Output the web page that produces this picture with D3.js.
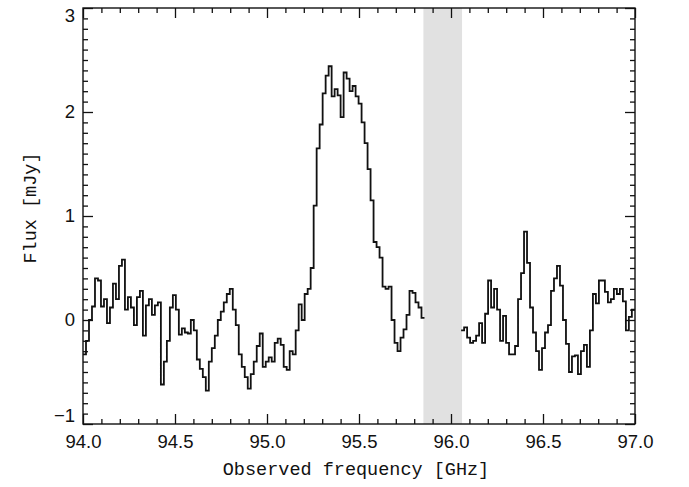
<!DOCTYPE html>
<html>
<head>
<meta charset="utf-8">
<script src="https://cdn.jsdelivr.net/npm/d3@7"></script>
<style>
  html, body { margin: 0; padding: 0; background: #fff; }
  svg { display: block; }
</style>
</head>
<body>
<svg id="chart" width="689" height="487"></svg>
<script>
// ---- data ----
const xTicks = [94.0, 94.5, 95.0, 95.5, 96.0, 96.5, 97.0];
const yTicks = [-1, 0, 1, 2, 3];
const xTitle = "Observed frequency [GHz]";
const yTitle = "Flux [mJy]";
const maskedBand = [95.85, 96.06];   // grey band (GHz)
const channelWidth = 0.01628;        // GHz
const seg1Start = 94.0;              // GHz
const seg2Start = 96.055;            // GHz
const seg1Flux = [
  -0.33, -0.2, 0.0, 0.13, 0.4, 0.38, 0.13, 0.2, -0.03, 0.12,
  0.35, 0.2, 0.52, 0.58, 0.1, 0.22, 0.12, -0.05, 0.22, 0.28,
  -0.15, 0.14, 0.2, 0.05, 0.14, 0.17, -0.62, -0.4, -0.2, 0.12,
  0.24, 0.1, -0.14, -0.08, -0.12, -0.13, 0.0, -0.1, -0.38, -0.47,
  -0.55, -0.68, -0.4, -0.27, -0.15, 0.0, 0.08, 0.17, 0.25, 0.3,
  0.1, -0.05, -0.33, -0.45, -0.55, -0.66, -0.52, -0.4, -0.25, -0.13,
  -0.45, -0.4, -0.36, -0.4, -0.22, -0.18, -0.24, -0.45, -0.48, -0.3,
  -0.33, -0.1, 0.15, 0.0, 0.25, 0.3, 0.5, 1.1, 1.65, 1.88,
  2.18, 2.35, 2.44, 2.15, 2.22, 2.16, 1.95, 2.38, 2.32, 2.2,
  2.25, 2.15, 2.08, 1.9, 1.7, 1.45, 1.15, 0.75, 0.7, 0.6,
  0.32, 0.3, 0.32, 0.0, -0.22, -0.3, -0.17, -0.09, 0.05, 0.28,
  0.26, 0.17, 0.12, 0.02
];
const seg2Flux = [
  -0.1, -0.07, -0.17, -0.22, -0.2, -0.15, -0.03, -0.22, 0.06, 0.38,
  0.12, 0.3, 0.1, -0.2, 0.04, -0.22, -0.33, -0.33, -0.25, 0.2,
  0.45, 0.85, 0.55, 0.12, -0.12, -0.3, -0.48, -0.27, -0.12, -0.05,
  0.28, 0.4, 0.52, 0.33, 0.0, -0.23, -0.5, -0.35, -0.34, -0.52,
  -0.3, -0.24, -0.45, -0.1, 0.25, 0.16, 0.38, 0.38, 0.27, 0.17,
  0.2, 0.3, 0.25, 0.3, 0.18, -0.1, 0.03, 0.1
];

// ---- layout ----
const svg = d3.select("#chart");
const L = 83, R = 635, T = 8, B = 424;
const x = d3.scaleLinear().domain([94.0, 97.0]).range([L, R]);
const y = d3.scaleLinear().domain([-1, 3]).range([B, T]);

function toPoints(start, flux) {
  const pts = flux.map((v, i) => [start + i * channelWidth, v]);
  pts.push([start + flux.length * channelWidth, flux[flux.length - 1]]);
  return pts;
}

// masked band
svg.append("rect")
  .attr("x", x(maskedBand[0])).attr("y", T)
  .attr("width", x(maskedBand[1]) - x(maskedBand[0]))
  .attr("height", B - T)
  .attr("fill", "#e1e1e1");

// spectrum
const line = d3.line().x(d => x(d[0])).y(d => y(d[1])).curve(d3.curveStepAfter);
svg.append("clipPath").attr("id", "clip")
  .append("rect").attr("x", L).attr("y", T).attr("width", R - L).attr("height", B - T);
[toPoints(seg1Start, seg1Flux), toPoints(seg2Start, seg2Flux)].forEach(pts => {
  svg.append("path")
    .attr("d", line(pts))
    .attr("fill", "none")
    .attr("stroke", "#111")
    .attr("stroke-width", 1.8)
    .attr("clip-path", "url(#clip)");
});

// axes
const xMinor = d3.range(940, 971).map(d => d / 10).filter(d => Math.abs(d * 2 - Math.round(d * 2)) > 1e-6);
const yMinor = d3.range(-10, 31).map(d => d / 10).filter(d => Math.abs(d - Math.round(d)) > 1e-6);
const tickFont = "Liberation Sans, Arial, sans-serif";

function styleAxis(g) {
  g.select(".domain").remove();
  g.selectAll("line").attr("stroke", "#111").attr("stroke-width", 1.3);
  g.selectAll("text").attr("fill", "#111").style("font-family", tickFont).style("font-size", "18.5px");
}

svg.append("g").attr("transform", `translate(0,${B})`)
  .call(d3.axisBottom(x).tickValues(xTicks).tickSize(-10).tickPadding(11).tickFormat(d3.format(".1f")))
  .call(styleAxis);
svg.append("g").attr("transform", `translate(0,${B})`)
  .call(d3.axisBottom(x).tickValues(xMinor).tickSize(-5).tickFormat(""))
  .call(styleAxis);
svg.append("g").attr("transform", `translate(0,${T})`)
  .call(d3.axisTop(x).tickValues(xTicks).tickSize(-10).tickFormat(""))
  .call(styleAxis);
svg.append("g").attr("transform", `translate(0,${T})`)
  .call(d3.axisTop(x).tickValues(xMinor).tickSize(-5).tickFormat(""))
  .call(styleAxis);

const yAxisG = svg.append("g").attr("transform", `translate(${L},0)`)
  .call(d3.axisLeft(y).tickValues(yTicks).tickSize(-10).tickPadding(8).tickFormat(d => d < 0 ? "\u2212" + Math.abs(d) : d))
  .call(styleAxis);
// edge labels are nudged inward, as in the reference
yAxisG.selectAll(".tick text")
  .attr("dy", d => d === 3 ? "0.72em" : (d === -1 ? "-0.15em" : "0.32em"));
svg.append("g").attr("transform", `translate(${L},0)`)
  .call(d3.axisLeft(y).tickValues(yMinor).tickSize(-5).tickFormat(""))
  .call(styleAxis);
svg.append("g").attr("transform", `translate(${R},0)`)
  .call(d3.axisRight(y).tickValues(yTicks).tickSize(-10).tickFormat(""))
  .call(styleAxis);
svg.append("g").attr("transform", `translate(${R},0)`)
  .call(d3.axisRight(y).tickValues(yMinor).tickSize(-5).tickFormat(""))
  .call(styleAxis);

// frame
svg.append("rect")
  .attr("x", L).attr("y", T).attr("width", R - L).attr("height", B - T)
  .attr("fill", "none").attr("stroke", "#111").attr("stroke-width", 1.4);

// titles
const titleFont = "Liberation Mono, Courier New, monospace";
svg.append("text")
  .attr("x", (L + R) / 2 - 3).attr("y", 475)
  .attr("text-anchor", "middle")
  .style("font-family", titleFont).style("font-size", "18.5px").attr("fill", "#111")
  .text(xTitle);
svg.append("text")
  .attr("transform", `translate(36,208) rotate(-90)`)
  .attr("text-anchor", "middle")
  .style("font-family", titleFont).style("font-size", "18.5px").attr("fill", "#111")
  .text(yTitle);
</script>
</body>
</html>
